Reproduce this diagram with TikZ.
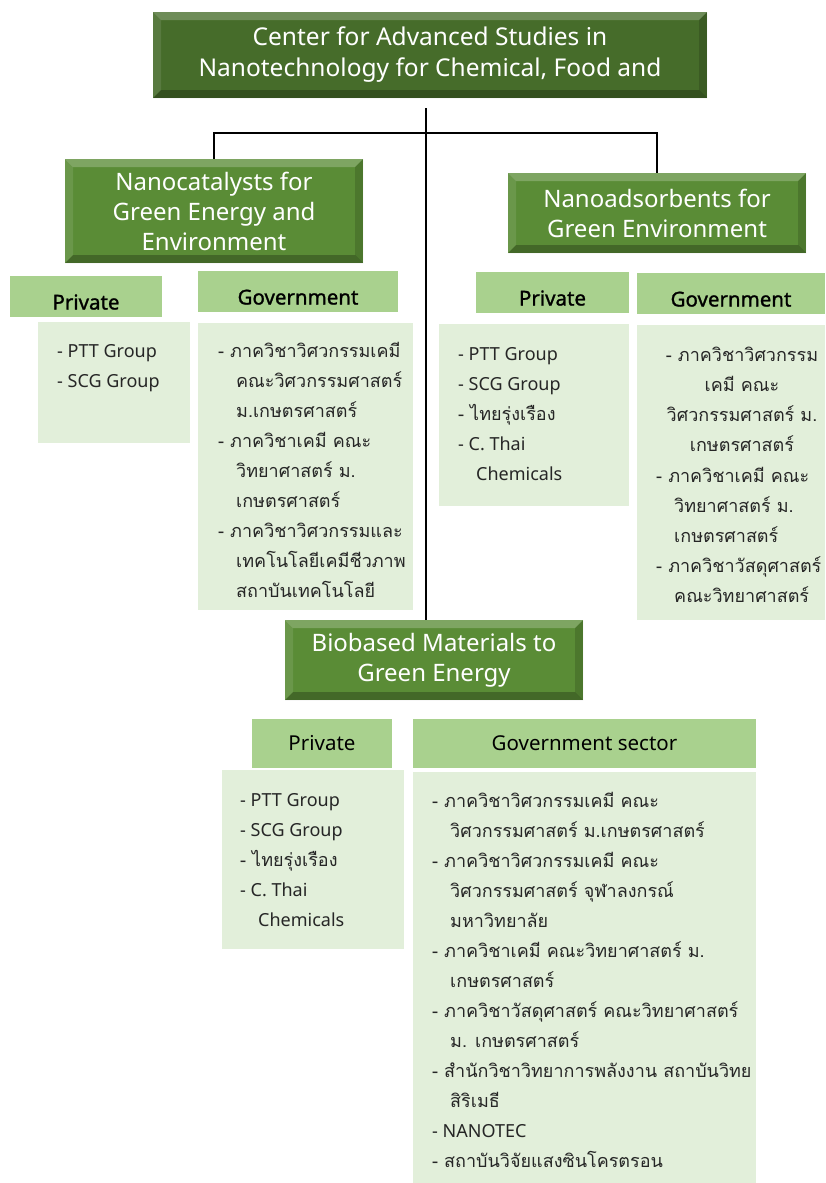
\documentclass[tikz,border=0pt]{standalone}
\usepackage{fontspec}
\setmainfont{Noto Sans}
\newfontfamily\thai[Script=Thai]{Loma}
\newfontfamily\headfont[FakeBold=1.2]{Noto Sans}
\usetikzlibrary{positioning}

\definecolor{topgreen}{RGB}{70,108,42}
\definecolor{midgreen}{RGB}{90,140,54}
\definecolor{headgreen}{RGB}{169,209,142}
\definecolor{listgreen}{RGB}{226,239,218}
\definecolor{listtext}{RGB}{38,38,38}

\newcommand\lowlabel[1]{\raisebox{-13pt}[0pt][0pt]{\headfont #1}}

\tikzset{
  bevel/.style={path picture={
    \path (path picture bounding box.north west) coordinate (bnw)
          (path picture bounding box.south east) coordinate (bse);
    \fill[white,opacity=.22] (bnw) -- (bnw-|bse) -- ([shift={(-8,8)}]bnw-|bse) -- ([shift={(8,8)}]bnw) -- cycle;
    \fill[white,opacity=.10] (bnw) -- ([shift={(8,8)}]bnw) -- ([shift={(8,-8)}]bnw|-bse) -- (bnw|-bse) -- cycle;
    \fill[black,opacity=.25] (bnw|-bse) -- (bse) -- ([shift={(-8,-8)}]bse) -- ([shift={(8,-8)}]bnw|-bse) -- cycle;
    \fill[black,opacity=.15] (bse) -- (bnw-|bse) -- ([shift={(-8,8)}]bnw-|bse) -- ([shift={(-8,-8)}]bse) -- cycle;
  }},
  topbox/.style={bevel, fill=topgreen, text=white, inner sep=0pt, align=center,
    font=\fontsize{24.5}{31}\selectfont},
  areabox/.style={bevel, fill=midgreen, text=white, inner sep=0pt, align=center,
    font=\fontsize{24}{30}\selectfont},
  headbox/.style={fill=headgreen, text=black, inner sep=0pt,
    font=\fontsize{20.5}{24}\selectfont},
  listbox/.style={fill=listgreen, inner sep=0pt},
  listtxt/.style={anchor=north west, inner sep=0pt, align=left, text=listtext,
    font=\fontsize{18}{30}\selectfont},
  thaitxt/.style={listtxt, font=\thai\fontsize{18}{30}\selectfont},
  link/.style={line width=2pt, black}
}

\begin{document}
\begin{tikzpicture}[x=1pt,y=-1pt]
\useasboundingbox (0,0) rectangle (825,1183);

% research areas
\node[topbox, minimum width=554, minimum height=86] (center) at (430,55)
  {Center for Advanced Studies in\\Nanotechnology for Chemical, Food and};
\node[areabox, minimum width=298, minimum height=104] (catal) at (214,211)
  {Nanocatalysts for\\Green Energy and\\Environment};
\node[areabox, minimum width=298, minimum height=80] (adsorb) at (657,213)
  {Nanoadsorbents for\\Green Environment};
\node[areabox, minimum width=298, minimum height=80] (bio) at (434,660)
  {Biobased Materials to\\Green Energy};

% connectors
\coordinate (hub) at (426,108);
\coordinate (split) at (426,133);
\draw[link] (hub) -- (hub |- bio.north);
\draw[link] (catal.north) |- (split) -| (adsorb.north);

% nanocatalysts partners
\node[headbox, minimum width=152, minimum height=41] (catpriv) at (86,296.5) {\lowlabel{Private}};
\node[headbox, minimum width=200, minimum height=41] (catgov) at (298,291.5) {\lowlabel{Government}};
\node[listbox, minimum width=152, minimum height=121] (catprivl) at (114,382.5) {};
\node[listbox, minimum width=215, minimum height=287] (catgovl) at (305.5,466.5) {};
\node[listtxt] (catprivt) at (57,344) {- PTT Group\\- SCG Group};
\node[thaitxt] (catgovt) at (218,342) {- ภาควิชาวิศวกรรมเคมี\\
  \hspace*{18pt}คณะวิศวกรรมศาสตร์\\ \hspace*{18pt}ม.เกษตรศาสตร์\\
  - ภาควิชาเคมี คณะ\\ \hspace*{18pt}วิทยาศาสตร์ ม.\\ \hspace*{18pt}เกษตรศาสตร์\\
  - ภาควิชาวิศวกรรมและ\\ \hspace*{18pt}เทคโนโลยีเคมีชีวภาพ\\ \hspace*{18pt}สถาบันเทคโนโลยี};

% nanoadsorbents partners
\node[headbox, minimum width=153, minimum height=41] (adspriv) at (552.5,292.5) {\lowlabel{Private}};
\node[headbox, minimum width=188, minimum height=41] (adsgov) at (731,293.5) {\lowlabel{Government}};
\node[listbox, minimum width=190, minimum height=182] (adsprivl) at (534,415) {};
\node[listbox, minimum width=188, minimum height=295] (adsgovl) at (731,472.5) {};
\node[listtxt] (adsprivt) at (458,347) {- PTT Group\\- SCG Group\\
  {\thai - ไทยรุ่งเรือง}\\- C. Thai\\ \hspace*{18pt}Chemicals};
\node[thaitxt, anchor=north, align=center] (adsgovt1) at (742,347) {- ภาควิชาวิศวกรรม\\
  เคมี คณะ\\ วิศวกรรมศาสตร์ ม.\\ เกษตรศาสตร์};
\node[thaitxt] (adsgovt2) at (656,467) {- ภาควิชาเคมี คณะ\\
  \hspace*{18pt}วิทยาศาสตร์ ม.\\ \hspace*{18pt}เกษตรศาสตร์\\
  - ภาควิชาวัสดุศาสตร์\\ \hspace*{18pt}คณะวิทยาศาสตร์};

% biobased partners
\node[headbox, minimum width=140, minimum height=49] (biopriv) at (322,743.5) {Private};
\node[headbox, minimum width=343, minimum height=49] (biogov) at (584.5,743.5) {Government sector};
\node[listbox, minimum width=182, minimum height=179] (bioprivl) at (313,859.5) {};
\node[listbox, minimum width=343, minimum height=411] (biogovl) at (584.5,977.5) {};
\node[listtxt] (bioprivt) at (240,793) {- PTT Group\\- SCG Group\\
  {\thai - ไทยรุ่งเรือง}\\- C. Thai\\ \hspace*{18pt}Chemicals};
\node[thaitxt] (biogovt) at (432,792) {- ภาควิชาวิศวกรรมเคมี คณะ\\
  \hspace*{18pt}วิศวกรรมศาสตร์ ม.เกษตรศาสตร์\\
  - ภาควิชาวิศวกรรมเคมี คณะ\\ \hspace*{18pt}วิศวกรรมศาสตร์ จุฬาลงกรณ์\\
  \hspace*{18pt}มหาวิทยาลัย\\
  - ภาควิชาเคมี คณะวิทยาศาสตร์ ม.\\ \hspace*{18pt}เกษตรศาสตร์\\
  - ภาควิชาวัสดุศาสตร์ คณะวิทยาศาสตร์\\ \hspace*{18pt}ม. เกษตรศาสตร์\\
  - สำนักวิชาวิทยาการพลังงาน สถาบันวิทย\\ \hspace*{18pt}สิริเมธี\\
  {\normalfont - NANOTEC}\\
  - สถาบันวิจัยแสงซินโครตรอน};
\end{tikzpicture}
\end{document}
